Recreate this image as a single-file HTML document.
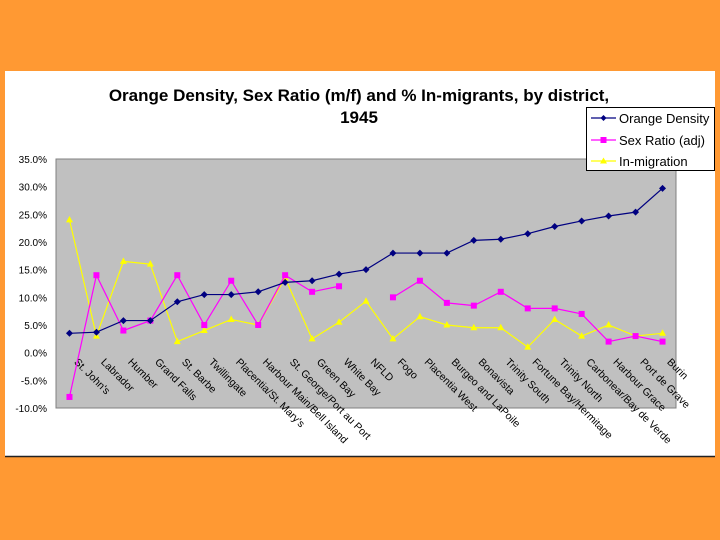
<!DOCTYPE html>
<html><head><meta charset="utf-8"><style>
html,body{margin:0;padding:0;background:#FF9933;width:720px;height:540px;overflow:hidden}
svg{display:block;font-family:"Liberation Sans",Arial,sans-serif}
</style></head><body>
<svg width="720" height="540">
<rect x="0" y="0" width="720" height="540" fill="#FF9933"/>
<rect x="5" y="71" width="710" height="385" fill="#fff"/>
<line x1="5" y1="456.5" x2="715" y2="456.5" stroke="#222" stroke-width="1.5"/>
<text x="359" y="101" text-anchor="middle" font-size="17" font-weight="bold">Orange Density, Sex Ratio (m/f) and % In-migrants, by district,</text>
<text x="359" y="123" text-anchor="middle" font-size="17" font-weight="bold">1945</text>
<rect x="56" y="159" width="620" height="249" fill="#C0C0C0" stroke="#808080"/>
<g id="yaxis"></g><g id="xlabels"></g><g id="series"></g>
<g>
<rect x="586.5" y="107.5" width="128" height="63" fill="#fff" stroke="#000"/>
<line x1="591" y1="118" x2="616" y2="118" stroke="#000080" stroke-width="1.2"/>
<path d="M603.5 115 L606.5 118 L603.5 121 L600.5 118 Z" fill="#000080"/>
<text x="619" y="123" font-size="13">Orange Density</text>
<line x1="591" y1="140" x2="616" y2="140" stroke="#FF00FF" stroke-width="1.2"/>
<rect x="600.5" y="137" width="6" height="6" fill="#FF00FF"/>
<text x="619" y="145" font-size="13">Sex Ratio (adj)</text>
<line x1="591" y1="161" x2="616" y2="161" stroke="#FFFF00" stroke-width="1.2"/>
<path d="M603.5 157.5 L607 163.5 L600 163.5 Z" fill="#FFFF00"/>
<text x="619" y="166" font-size="13">In-migration</text>
</g>
</svg>
<script>
const categories=["St. John's","Labrador","Humber","Grand Falls","St. Barbe","Twillingate","Placentia/St. Mary's","Harbour Main/Bell Island","St. George/Port au Port","Green Bay","White Bay","NFLD","Fogo","Placentia West","Burgeo and LaPoile","Bonavista","Trinity South","Fortune Bay/Hermitage","Trinity North","Carbonear/Bay de Verde","Harbour Grace","Port de Grave","Burin"];
const orangeDensity=[3.5,3.7,5.8,5.8,9.2,10.5,10.5,11,12.7,13,14.2,15,18,18,18,20.3,20.5,21.5,22.8,23.8,24.7,25.4,29.7];
const sexRatio=[-8,14,4,5.8,14,5,13,5,14,11,12,null,10,13,9,8.5,11,8,8,7,2,3,2];
const inMigration=[24,3,16.5,16,2,4,6,5,13.5,2.5,5.5,9.3,2.5,6.5,5,4.5,4.5,1,6,3,5,3,3.5];
const yTicks=[35,30,25,20,15,10,5,0,-5,-10];
const NS="http://www.w3.org/2000/svg";
const L=56,R=676,T=159,B=408,yMin=-10,yMax=35;
function y(v){return T+(yMax-v)/(yMax-yMin)*(B-T);}
function x(i){const w=(R-L)/categories.length;return L+w*(i+0.5);}
function mk(t,a,p){const e=document.createElementNS(NS,t);for(const k in a)e.setAttribute(k,a[k]);p.appendChild(e);return e;}
const ya=document.getElementById('yaxis');
yTicks.forEach(v=>{const t=mk('text',{x:47,y:y(v)+4,'text-anchor':'end','font-size':'10'},ya);t.textContent=v.toFixed(1)+'%';

});
const xl=document.getElementById('xlabels');
categories.forEach((c,i)=>{const px=x(i)+4,py=y(0)+10;const t=mk('text',{x:px,y:py,'font-size':'10.5',transform:`rotate(45 ${px} ${py})`},xl);t.textContent=c;

});
const sg=document.getElementById('series');
function line(vals,color,name,marker){
 let segs=[],cur=[];vals.forEach((v,i)=>{if(v===null){if(cur.length)segs.push(cur);cur=[];}else cur.push([x(i),y(v)]);});if(cur.length)segs.push(cur);
 segs.forEach(s=>{const p=mk('polyline',{points:s.map(q=>q.join(',')).join(' '),fill:'none',stroke:color,'stroke-width':'1.2'},sg);
 
 });
 vals.forEach((v,i)=>{if(v===null)return;const cx=x(i),cy=y(v);let m;
  if(marker==='d')m=mk('path',{d:`M${cx} ${cy-3.5}L${cx+3.5} ${cy}L${cx} ${cy+3.5}L${cx-3.5} ${cy}Z`,fill:color},sg);
  else if(marker==='s')m=mk('rect',{x:cx-3,y:cy-3,width:6,height:6,fill:color},sg);
  else m=mk('path',{d:`M${cx} ${cy-4}L${cx+3.5} ${cy+2.5}L${cx-3.5} ${cy+2.5}Z`,fill:color},sg);
  
  });
}
line(inMigration,'#FFFF00','in-migration','t');
line(sexRatio,'#FF00FF','sex-ratio','s');
line(orangeDensity,'#000080','orange-density','d');
</script>
</body></html>
